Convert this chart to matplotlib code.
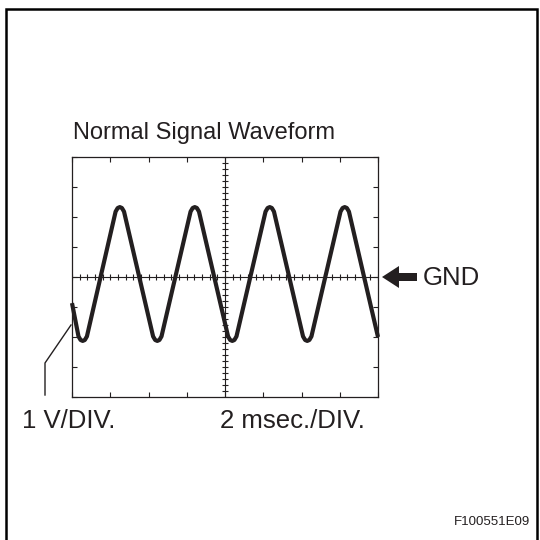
import matplotlib.pyplot as plt
from matplotlib.patches import Rectangle, FancyArrow
from matplotlib.lines import Line2D

plt.rcParams['font.family'] = ['Liberation Sans', 'DejaVu Sans']

# Waveform: time in ms, level in volts (GND = 0).
# Each peak / trough carries a couple of extra points for its rounded tip.
t_ms = [0.0,
        0.34, 0.45, 0.56, 0.67, 0.78,
        2.28, 2.39, 2.50, 2.61, 2.72,
        4.24, 4.35, 4.46, 4.57, 4.68,
        6.20, 6.31, 6.42, 6.53, 6.64,
        8.16, 8.27, 8.38, 8.49, 8.60,
        10.12, 10.23, 10.34, 10.45, 10.56,
        12.08, 12.19, 12.30, 12.41, 12.52,
        14.04, 14.15, 14.26, 14.37, 14.48,
        16.0]
volts = [-0.87,
         -1.98, -2.10, -2.13, -2.10, -1.98,
         2.18, 2.30, 2.33, 2.30, 2.18,
         -1.98, -2.10, -2.13, -2.10, -1.98,
         2.18, 2.30, 2.33, 2.30, 2.18,
         -1.98, -2.10, -2.13, -2.10, -1.98,
         2.18, 2.30, 2.33, 2.30, 2.18,
         -1.98, -2.10, -2.13, -2.10, -1.98,
         2.18, 2.30, 2.33, 2.30, 2.18,
         -2.0]

ms_per_div = 2
v_per_div = 1
n_div = 8

ink = '#231f20'
W = H = 540

fig = plt.figure(figsize=(5.4, 5.4), dpi=100)

# screen area
ax = fig.add_axes([72 / W, 143 / H, 306 / W, 240 / H])
ax.set_xlim(0, n_div * ms_per_div)
ax.set_ylim(-n_div / 2 * v_per_div, n_div / 2 * v_per_div)

for s in ax.spines.values():
    s.set_linewidth(0.9)
    s.set_color(ink)

ax.set_xticks([i * ms_per_div for i in range(n_div + 1)])
ax.set_yticks([(i - n_div / 2) * v_per_div for i in range(n_div + 1)])
ax.tick_params(direction='in', length=3.5, width=0.8, color=ink,
               top=True, right=True, labelbottom=False, labelleft=False)

# centre crosshair with fine graduations
xc = n_div * ms_per_div / 2
ax.axhline(0, color=ink, lw=0.8)
ax.axvline(xc, color=ink, lw=0.8)
minor_t = [i * ms_per_div / 5 for i in range(n_div * 5 + 1)]
minor_v = [(i - n_div * 5 / 2) * v_per_div / 5 for i in range(n_div * 5 + 1)]
ax.plot(minor_t, [0] * len(minor_t), ls='none', marker='|', ms=4, mew=0.8, color=ink)
ax.plot([xc] * len(minor_v), minor_v, ls='none', marker='_', ms=4, mew=0.8, color=ink)

ax.plot(t_ms, volts, color=ink, lw=3.0, solid_joinstyle='round',
        solid_capstyle='butt', clip_on=False)

# outer frame
fig.add_artist(Rectangle((5.5 / W, -0.05), 531.5 / W, 1.05 - 8.5 / H,
                         transform=fig.transFigure, fill=False,
                         lw=1.8, edgecolor='black'))

fig.text(73 / W, 1 - 133 / H, 'Normal Signal Waveform', fontsize=17,
         color=ink, va='center', ha='left')

# GND marker
fig.add_artist(FancyArrow(417 / W, 1 - 277 / H, -35 / W, 0,
                          width=8 / H, head_width=22 / H, head_length=17 / W,
                          length_includes_head=True, color=ink, lw=0,
                          transform=fig.transFigure))
fig.text(423 / W, 1 - 278 / H, 'GND', fontsize=18.5, color=ink,
         va='center', ha='left')

# leader line to the voltage scale label
fig.add_artist(Line2D([45 / W, 45 / W, 71 / W],
                      [1 - 395 / H, 1 - 363 / H, 1 - 325 / H],
                      transform=fig.transFigure, color=ink, lw=1.0))

fig.text(22 / W, 1 - 421 / H, '1 V/DIV.', fontsize=18.5, color=ink,
         va='center', ha='left')
fig.text(220 / W, 1 - 421 / H, '2 msec./DIV.', fontsize=18.5, color=ink,
         va='center', ha='left')
fig.text(530 / W, 1 - 522 / H, 'F100551E09', fontsize=9.5, color=ink,
         va='center', ha='right')

fig.savefig('out.png', dpi=100, facecolor='white')
